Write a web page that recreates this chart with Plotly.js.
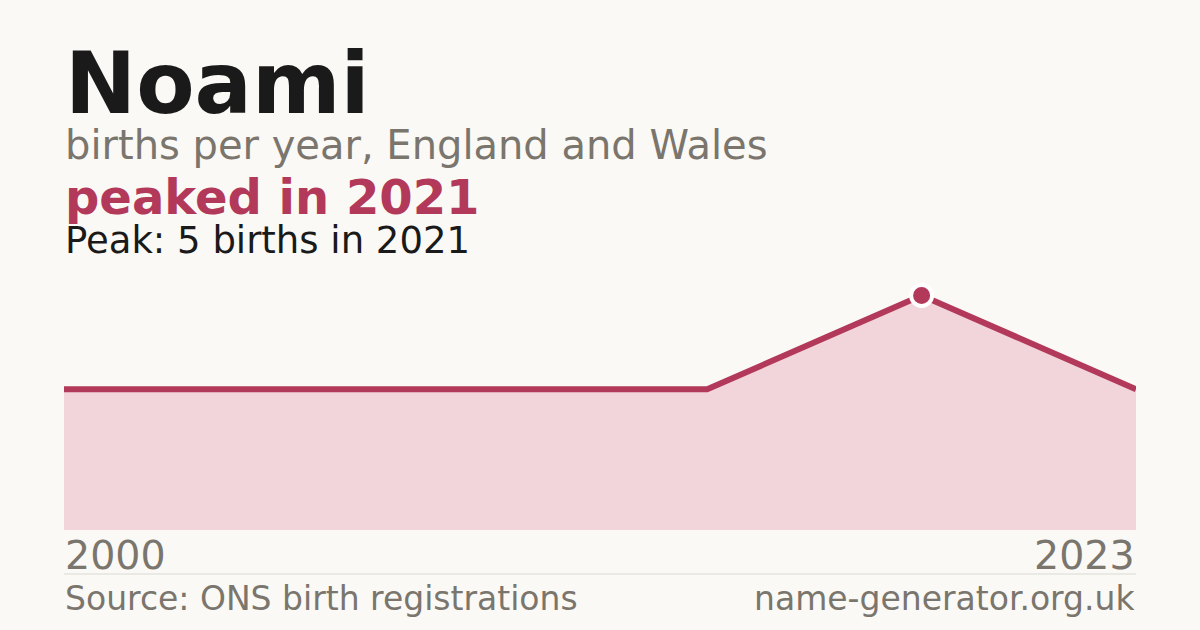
<!DOCTYPE html>
<html>
<head>
<meta charset="utf-8">
<script src="https://cdn.plot.ly/plotly-3.0.1.min.js"></script>
<style>
  html, body { margin: 0; padding: 0; background: #faf9f5; }
  #chart { width: 1200px; height: 630px; }
</style>
</head>
<body>
<div id="chart"></div>
<script>
/* global Plotly */
const nameLabel = "Noami";
const births = [3, 3, 3, 3, 5, 3];
const firstYear = 2000;
const lastYear = 2023;
const peakYear = 2021;

const accent = "#b3395a";
const grey = "#7a756d";
const font = "DejaVu Sans, Verdana, sans-serif";

// plot area is 530px at the bottom, 258px tall
const plotBottom = 530;
const plotHeight = 258;
const py = (px) => (plotBottom - px) / plotHeight;

const xs = births.map((_, i) => i);
const peak = Math.max(...births);
const peakIdx = births.indexOf(peak);

function textNote(text, x, yPx, size, color, bold, anchor) {
  return {
    text: bold ? `<b>${text}</b>` : text,
    xref: "paper",
    yref: "paper",
    x,
    y: py(yPx),
    xanchor: anchor,
    yanchor: "middle",
    showarrow: false,
    borderpad: 0,
    font: { family: font, size, color },
  };
}

const areaTrace = {
  x: xs,
  y: births,
  type: "scatter",
  mode: "lines",
  fill: "tozeroy",
  fillcolor: "#f1d5da",
  line: { color: accent, width: 6 },
  hoverinfo: "skip",
};

const peakTrace = {
  x: [peakIdx],
  y: [peak],
  type: "scatter",
  mode: "markers",
  marker: { color: accent, size: 21, line: { color: "#ffffff", width: 4 } },
  cliponaxis: false,
  hoverinfo: "skip",
};

const layout = {
  width: 1200,
  height: 630,
  paper_bgcolor: "#faf9f5",
  plot_bgcolor: "#faf9f5",
  showlegend: false,
  margin: { l: 64, r: 64, t: plotBottom - plotHeight, b: 630 - plotBottom, pad: 0 },
  xaxis: {
    range: [0, births.length - 1],
    showgrid: false,
    zeroline: false,
    showline: false,
    showticklabels: false,
    fixedrange: true,
  },
  yaxis: {
    range: [0, 5.5],
    showgrid: false,
    zeroline: false,
    showline: false,
    showticklabels: false,
    fixedrange: true,
  },
  shapes: [
    {
      type: "line",
      xref: "paper",
      yref: "paper",
      x0: 0,
      x1: 1,
      y0: py(574),
      y1: py(574),
      line: { color: "#dcd9d2", width: 1 },
    },
  ],
  annotations: [
    textNote(nameLabel, 0, 83, 85, "#1a1a1a", true, "left"),
    textNote("births per year, England and Wales", 0, 145, 40, grey, false, "left"),
    textNote(`peaked in ${peakYear}`, 0, 197, 48, accent, true, "left"),
    textNote(`Peak: ${peak} births in ${peakYear}`, 0, 240, 37, "#1a1a1a", false, "left"),
    textNote(String(firstYear), 0, 555, 39.5, grey, false, "left"),
    textNote(String(lastYear), 1, 555, 39.5, grey, false, "right"),
    textNote("Source: ONS birth registrations", 0, 598, 33, grey, false, "left"),
    textNote("name-generator.org.uk", 1, 598, 33, grey, false, "right"),
  ],
};

Plotly.newPlot("chart", [areaTrace, peakTrace], layout, {
  displayModeBar: false,
  staticPlot: true,
});
</script>
</body>
</html>
